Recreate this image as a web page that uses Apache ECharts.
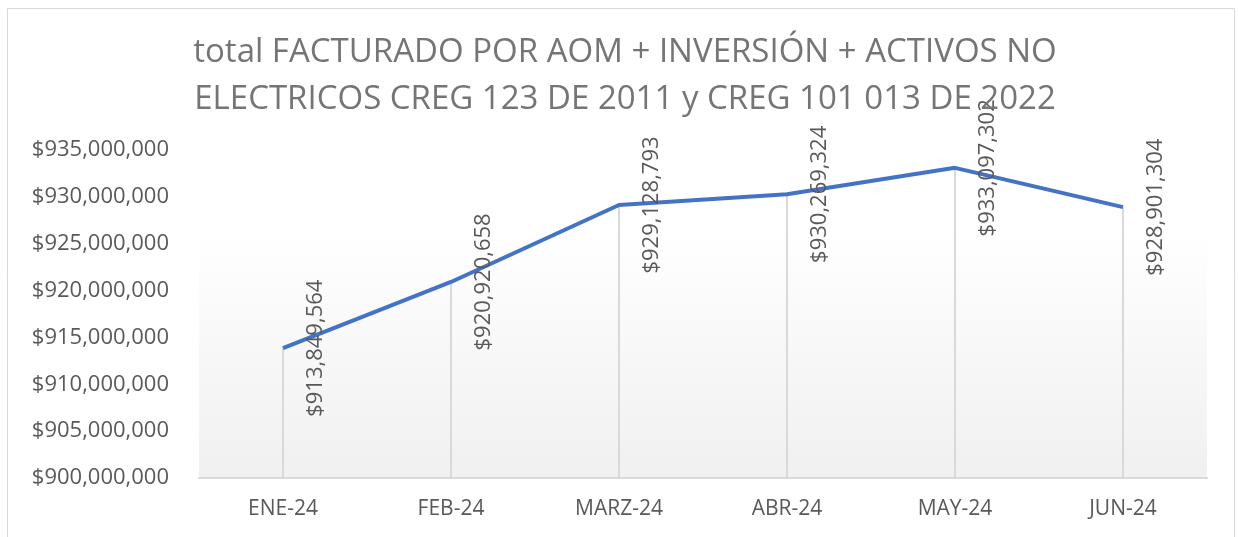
<!DOCTYPE html>
<html>
<head>
<meta charset="utf-8">
<script src="https://cdn.jsdelivr.net/npm/echarts@6/dist/echarts.min.js"></script>
<style>
  html, body { margin: 0; padding: 0; background: #fff; }
  #main { width: 1238px; height: 537px; }
</style>
</head>
<body>
<div id="main"></div>
<script>
var months = ['ENE-24', 'FEB-24', 'MARZ-24', 'ABR-24', 'MAY-24', 'JUN-24'];
var facturado = [913849564, 920920658, 929128793, 930269324, 933097302, 928901304];
var yTicks = { min: 900000000, max: 935000000, step: 5000000 };

var fontName = 'Open Sans';
var gray = '#595959';

function money (v) {
    return '$' + Math.round(v).toString().replace(/\B(?=(\d{3})+(?!\d))/g, ',');
}

var chart = echarts.init(document.getElementById('main'));

chart.setOption({
    animation: false,
    graphic: [{
        type: 'rect',
        shape: { x: 7.5, y: 8.5, width: 1227, height: 600 },
        style: { fill: 'none', stroke: '#d9d9d9', lineWidth: 1 },
        silent: true
    }],
    title: {
        text: 'total FACTURADO POR AOM + INVERSIÓN + ACTIVOS NO\nELECTRICOS CREG 123 DE 2011 y CREG 101 013 DE 2022',
        left: 620,
        top: 24,
        textAlign: 'center',
        textStyle: {
            fontFamily: fontName,
            fontSize: 33,
            fontWeight: 'normal',
            color: '#757575',
            lineHeight: 47
        }
    },
    grid: {
        left: 199,
        right: 31,
        top: 150,
        bottom: 59,
        show: true,
        borderWidth: 0,
        backgroundColor: new echarts.graphic.LinearGradient(0, 0, 0, 1, [
            { offset: 0, color: '#ffffff' },
            { offset: 0.25, color: '#ffffff' },
            { offset: 1, color: '#f0f0f0' }
        ])
    },
    xAxis: {
        type: 'category',
        data: months,
        boundaryGap: true,
        axisLine: { show: true, lineStyle: { color: '#d9d9d9', width: 2 } },
        axisTick: { show: false },
        axisLabel: {
            fontFamily: fontName,
            fontSize: 21,
            color: gray,
            margin: 21
        },
        splitLine: { show: false }
    },
    yAxis: {
        type: 'value',
        min: yTicks.min,
        max: yTicks.max,
        interval: yTicks.step,
        axisLine: { show: false },
        axisTick: { show: false },
        splitLine: { show: false },
        axisLabel: {
            fontFamily: fontName,
            fontSize: 22,
            color: gray,
            margin: 30,
            formatter: money
        }
    },
    series: [{
        // drop lines from each point down to the axis
        type: 'bar',
        data: facturado,
        barWidth: 2,
        itemStyle: { color: '#d9d9d9' },
        silent: true,
        z: 1
    }, {
        type: 'line',
        data: facturado,
        symbol: 'circle',
        symbolSize: 1,
        showSymbol: true,
        itemStyle: { color: 'rgba(68,114,196,0)', borderWidth: 0 },
        lineStyle: { color: '#4472C4', width: 4 },
        z: 3,
        label: {
            show: true,
            position: 'right',
            distance: 32,
            rotate: 90,
            align: 'center',
            verticalAlign: 'middle',
            fontFamily: fontName,
            fontSize: 22,
            color: gray,
            formatter: function (p) { return money(p.value); }
        }
    }]
});
</script>
</body>
</html>
